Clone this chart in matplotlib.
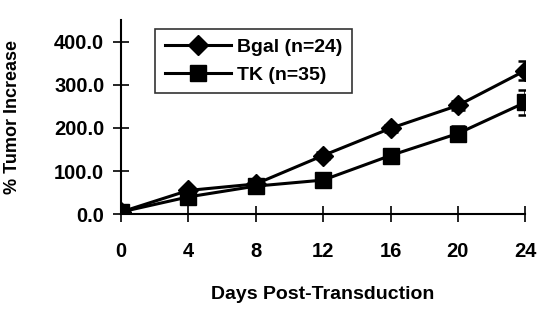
import matplotlib
matplotlib.use("Agg")
import matplotlib.pyplot as plt

days = [0, 4, 8, 12, 16, 20, 24]
bgal = [5, 55, 70, 136, 199, 252, 333]
bgal_err = [0, 6, 6, 8, 8, 10, 22]
tk = [5, 40, 65, 79, 136, 187, 259]
tk_err = [0, 6, 6, 8, 12, 18, 28]
yticks = [0, 100, 200, 300, 400]

plt.rcParams.update({"font.family": "Liberation Sans", "font.weight": "bold"})

fig = plt.figure(figsize=(5.39, 3.14), dpi=100)
ax = fig.add_axes([0.2245, 0.318, 0.75, 0.618])

# error bars first, then lines + markers carry the legend
ax.errorbar(days, bgal, yerr=bgal_err, fmt="none", ecolor="black", capsize=5,
            elinewidth=1.8, capthick=1.8, zorder=2)
ax.errorbar(days, tk, yerr=tk_err, fmt="none", ecolor="black", capsize=5,
            elinewidth=1.8, capthick=1.8, zorder=2)
ax.plot(days, bgal, color="black", marker="D", markersize=10, lw=2.2,
        label="Bgal (n=24)", zorder=3)
ax.plot(days, tk, color="black", marker="s", markersize=11, lw=2.2,
        label="TK (n=35)", zorder=3)

ax.set_xlim(0, 24)
ax.set_ylim(0, 450)
ax.set_xticks(days)
ax.set_yticks(yticks)
ax.set_yticklabels([f"{v:.1f}" for v in yticks])
ax.tick_params(axis="x", direction="inout", length=12, width=1.2, pad=14, labelsize=14.5)
ax.tick_params(axis="y", direction="inout", length=12, width=1.2, pad=6, labelsize=14.5)
for s in ["top", "right"]:
    ax.spines[s].set_visible(False)
for s in ["left", "bottom"]:
    ax.spines[s].set_linewidth(1.5)
ax.spines["bottom"].set_zorder(4)

ax.set_xlabel("Days Post-Transduction", fontsize=14, fontweight="bold", labelpad=18)
ax.set_ylabel("% Tumor Increase", fontsize=13, fontweight="bold", labelpad=24)

leg = ax.legend(loc="upper left", bbox_to_anchor=(0.07, 0.985), fontsize=14,
                frameon=True, fancybox=False, edgecolor="black", handlelength=3.4,
                borderpad=0.5, labelspacing=0.5, handletextpad=0.3, borderaxespad=0.3)
leg.get_frame().set_linewidth(1.2)

fig.savefig("out.png", dpi=100)
